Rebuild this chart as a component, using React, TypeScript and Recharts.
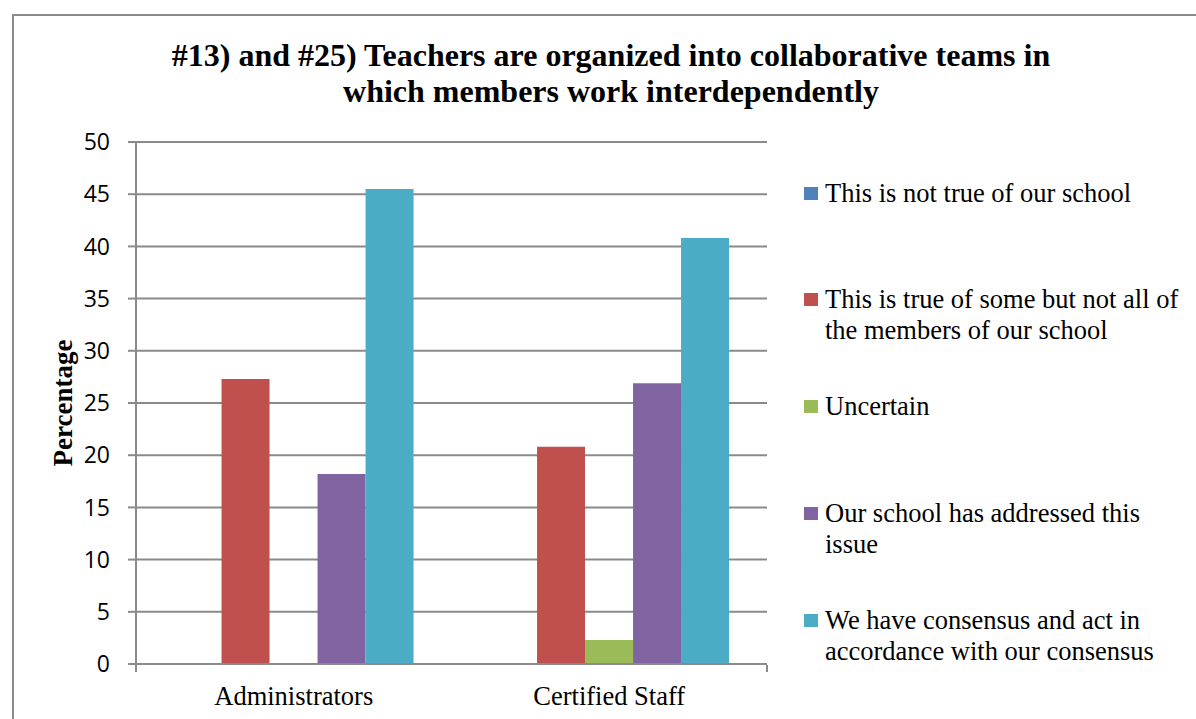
import React from 'react';
import { BarChart, Bar, XAxis, YAxis, CartesianGrid, Label } from 'recharts';

const categories = ['Administrators', 'Certified Staff'];
const seriesNames = [
  'This is not true of our school',
  'This is true of some but not all of the members of our school',
  'Uncertain',
  'Our school has addressed this issue',
  'We have consensus and act in accordance with our consensus',
];
const seriesKeys = ['notTrue', 'someTrue', 'uncertain', 'addressed', 'consensus'];
const seriesColors = ['#4F81BD', '#C0504D', '#9BBB59', '#8064A2', '#4BACC6'];
const notTrueValues = [0, 0];
const someTrueValues = [27.3, 20.8];
const uncertainValues = [0, 2.3];
const addressedValues = [18.2, 26.9];
const consensusValues = [45.5, 40.8];
const yTicks = [0, 5, 10, 15, 20, 25, 30, 35, 40, 45, 50];
const titleLines = [
  '#13) and #25) Teachers are organized into collaborative teams in',
  'which members work interdependently',
];
const yAxisTitle = 'Percentage';

const seriesValues = [notTrueValues, someTrueValues, uncertainValues, addressedValues, consensusValues];
const data = categories.map((c, i) => {
  const row: Record<string, string | number> = { category: c };
  seriesKeys.forEach((k, s) => {
    row[k] = seriesValues[s][i];
  });
  return row;
});

const GRID = '#8a8a8a';
const SERIF = '"Liberation Serif", "Times New Roman", serif';
const SANS = '"Open Sans", "Noto Sans", sans-serif';

export default function App() {
  return (
    <div style={{ position: 'fixed', left: 0, top: 0, width: 1196, height: 719, overflow: 'hidden', background: '#fff' }}>
      <div
        style={{
          position: 'absolute',
          left: 12,
          top: 14,
          width: 1300,
          height: 800,
          borderTop: '2px solid #8a8a8a',
          borderLeft: '2px solid #8a8a8a',
          boxSizing: 'border-box',
        }}
      />
      <div
        style={{
          position: 'absolute',
          left: 0,
          top: 37,
          width: 1222,
          textAlign: 'center',
          fontFamily: SERIF,
          fontWeight: 'bold',
          fontSize: 32,
          lineHeight: '36px',
          color: '#000',
        }}
      >
        {titleLines.map((t) => (
          <div key={t}>{t}</div>
        ))}
      </div>
      <div style={{ position: 'absolute', left: 0, top: 0 }}>
        <BarChart
          width={1196}
          height={719}
          data={data}
          margin={{ top: 142, right: 429, bottom: 53, left: 76 }}
          barCategoryGap="11.9%"
          barGap={0}
        >
          <CartesianGrid vertical={false} stroke={GRID} strokeWidth={2} />
          <XAxis
            dataKey="category"
            height={1}
            axisLine={{ stroke: GRID, strokeWidth: 2 }}
            tickLine={false}
            tickSize={0}
            tickMargin={22}
            tick={{ fill: '#000', fontFamily: SERIF, fontSize: 26.5 }}
          />
          <XAxis
            xAxisId="edges"
            type="number"
            domain={[0, 2]}
            ticks={[0, 1, 2]}
            height={1}
            axisLine={false}
            tickSize={7}
            tickLine={{ stroke: GRID, strokeWidth: 2 }}
            tickFormatter={() => ''}
            allowDataOverflow
          />
          <YAxis
            width={60}
            domain={[0, 50]}
            ticks={yTicks}
            interval={0}
            axisLine={{ stroke: GRID, strokeWidth: 2 }}
            tickLine={{ stroke: GRID, strokeWidth: 2 }}
            tickSize={8}
            tickMargin={18}
            tick={{ fill: '#000', fontFamily: SANS, fontSize: 23 }}
          >
            <Label
              content={(props: any) => {
                const vb = props.viewBox || { x: 76, y: 142, width: 60, height: 522 };
                const cx = vb.x - 13;
                const cy = vb.y + vb.height / 2;
                return (
                  <text
                    x={cx}
                    y={cy}
                    transform={`rotate(-90 ${cx} ${cy})`}
                    textAnchor="middle"
                    dominantBaseline="central"
                    fontFamily={SERIF}
                    fontWeight="bold"
                    fontSize={27}
                    fill="#000"
                  >
                    {yAxisTitle}
                  </text>
                );
              }}
            />
          </YAxis>
          {seriesKeys.map((k, i) => (
            <Bar key={k} dataKey={k} name={seriesNames[i]} fill={seriesColors[i]} isAnimationActive={false} />
          ))}
        </BarChart>
      </div>
      <div style={{ position: 'absolute', left: 804, top: 0 }}>
        {seriesNames.map((n, i) => (
          <div
            key={n}
            style={{
              position: 'absolute',
              left: 0,
              top: 193 + i * 106.75 - 15.5,
              width: 400,
            }}
          >
            <div
              style={{
                position: 'absolute',
                left: 0,
                top: 9,
                width: 14,
                height: 13,
                background: seriesColors[i],
              }}
            />
            <div
              style={{
                position: 'absolute',
                left: 21,
                top: 0,
                width: 366,
                fontFamily: SERIF,
                fontSize: 26.5,
                lineHeight: '31px',
                color: '#000',
              }}
            >
              {n}
            </div>
          </div>
        ))}
      </div>
    </div>
  );
}
